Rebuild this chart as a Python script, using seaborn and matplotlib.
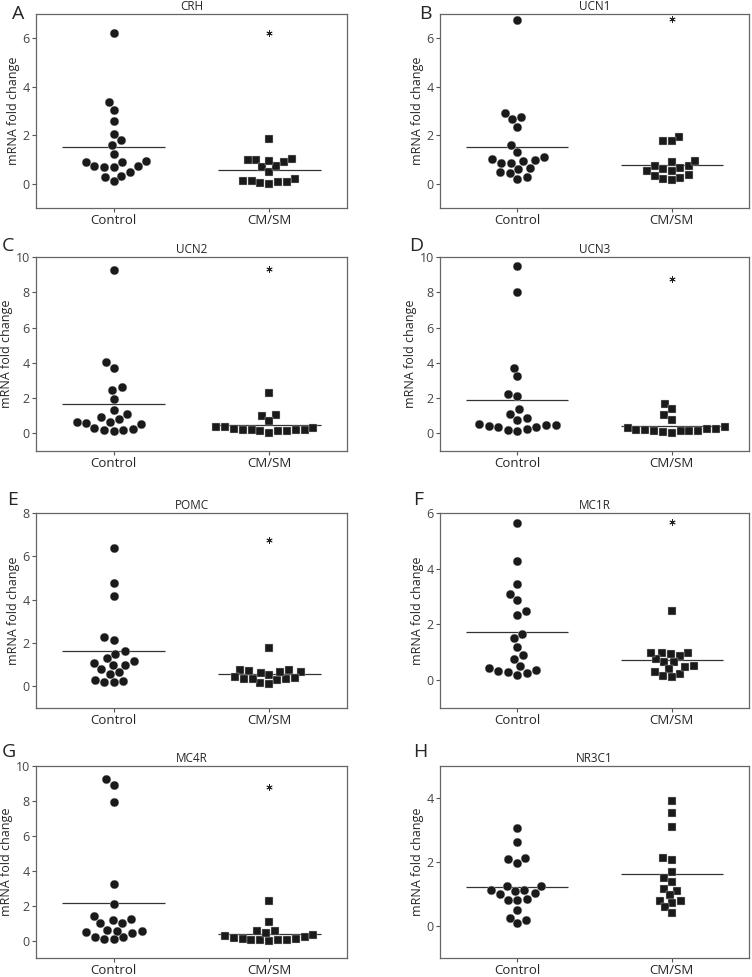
import numpy as np
import pandas as pd
import matplotlib.pyplot as plt
import seaborn as sns

# --- data (mRNA fold change per animal) ---
groups = ['Control', 'CM/SM']
genes = ['CRH', 'UCN1', 'UCN2', 'UCN3', 'POMC', 'MC1R', 'MC4R', 'NR3C1']
letters = ['A', 'B', 'C', 'D', 'E', 'F', 'G', 'H']

crh_control = [6.23, 3.37, 3.03, 2.58, 2.07, 1.79, 1.59, 1.21, 0.91, 0.72, 0.72, 0.69, 0.69, 0.90, 0.92, 0.34, 0.48, 0.26, 0.10]
crh_cmsm = [1.85, 0.97, 0.88, 0.99, 0.69, 1.02, 0.50, 0.72, 0.94, 0.19, 0.08, 0.06, 0.00, 0.04, 0.10, 0.10]
ucn1_control = [6.77, 2.91, 2.65, 2.76, 2.33, 1.60, 1.30, 1.10, 0.98, 0.87, 0.86, 0.94, 1.02, 0.61, 0.43, 0.19, 0.29, 0.48, 0.65]
ucn1_cmsm = [1.93, 1.75, 1.75, 0.88, 0.72, 0.63, 0.74, 0.95, 0.52, 0.36, 0.22, 0.15, 0.21, 0.34, 0.51, 0.62]
ucn2_control = [9.24, 4.06, 3.71, 2.61, 2.48, 1.96, 1.10, 1.33, 0.90, 0.63, 0.61, 0.32, 0.21, 0.15, 0.21, 0.25, 0.53, 0.63, 0.80]
ucn2_cmsm = [2.27, 0.99, 1.03, 0.72, 0.38, 0.27, 0.19, 0.17, 0.15, 0.04, 0.11, 0.13, 0.17, 0.21, 0.29, 0.38]
ucn3_control = [9.47, 7.99, 3.73, 3.24, 2.12, 2.22, 1.12, 1.38, 0.87, 0.51, 0.45, 0.34, 0.27, 0.13, 0.21, 0.36, 0.42, 0.49, 0.74]
ucn3_cmsm = [1.69, 1.40, 1.02, 0.78, 0.28, 0.25, 0.21, 0.11, 0.11, 0.04, 0.09, 0.11, 0.15, 0.21, 0.25, 0.34]
pomc_control = [6.38, 4.75, 4.17, 2.28, 2.15, 1.62, 1.51, 1.31, 1.09, 1.00, 0.80, 0.99, 1.17, 0.57, 0.65, 0.26, 0.18, 0.18, 0.31]
pomc_cmsm = [1.77, 0.77, 0.69, 0.77, 0.66, 0.54, 0.37, 0.35, 0.28, 0.12, 0.15, 0.34, 0.34, 0.43, 0.62, 0.65]
mc1r_control = [5.65, 4.28, 3.46, 3.11, 2.88, 2.35, 2.48, 1.66, 1.51, 1.20, 0.92, 0.77, 0.51, 0.35, 0.29, 0.19, 0.27, 0.34, 0.45]
mc1r_cmsm = [2.48, 0.98, 0.98, 0.88, 0.65, 0.64, 0.75, 0.95, 0.99, 0.51, 0.39, 0.23, 0.10, 0.14, 0.29, 0.48]
mc4r_control = [9.24, 8.90, 7.92, 3.22, 2.08, 1.25, 1.00, 1.00, 1.17, 1.40, 0.61, 0.51, 0.42, 0.19, 0.06, 0.09, 0.23, 0.53, 0.57]
mc4r_cmsm = [2.27, 1.08, 0.53, 0.28, 0.17, 0.08, 0.04, 0.02, 0.00, 0.02, 0.04, 0.09, 0.19, 0.32, 0.45, 0.55]
nr3c1_control = [3.06, 2.64, 2.14, 1.98, 2.09, 1.25, 1.25, 1.11, 1.03, 1.00, 1.08, 1.14, 0.80, 0.85, 0.82, 0.50, 0.26, 0.20, 0.08]
nr3c1_cmsm = [3.92, 3.52, 3.08, 2.07, 2.14, 1.69, 1.51, 1.39, 1.17, 1.10, 0.97, 0.78, 0.72, 0.79, 0.58, 0.41]

control_sets = [crh_control, ucn1_control, ucn2_control, ucn3_control, pomc_control, mc1r_control, mc4r_control, nr3c1_control]
cmsm_sets = [crh_cmsm, ucn1_cmsm, ucn2_cmsm, ucn3_cmsm, pomc_cmsm, mc1r_cmsm, mc4r_cmsm, nr3c1_cmsm]
y_tops = [7, 7, 10, 10, 8, 6, 10, 5]
star_values = [6.23, 6.8, 9.3, 8.75, 6.75, 5.66, 8.77, None]  # significance marks

# --- style ---
sns.set_style('white')
plt.rcParams['font.family'] = ['Open Sans', 'DejaVu Sans']

fig = plt.figure(figsize=(7.52, 9.77), dpi=100)
W, H = 752, 977
col_x = [(36, 347), (440, 749)]
row_y = [(14, 208), (257, 451), (513, 708), (766, 958)]
# panel letter positions (pixels, top-left origin)
letter_x = [12, 419, 2, 409, 7, 413, 2, 413]
letter_y = [14, 14, 246, 246, 500, 500, 752, 752]

for i, gene in enumerate(genes):
    r, c = divmod(i, 2)
    x0, x1 = col_x[c]
    t, b = row_y[r]
    ax = fig.add_axes([x0 / W, 1 - b / H, (x1 - x0) / W, (b - t) / H])

    df_c = pd.DataFrame({'group': 'Control', 'value': control_sets[i]})
    df_s = pd.DataFrame({'group': 'CM/SM', 'value': cmsm_sets[i]})
    sns.swarmplot(data=df_c, x='group', y='value', order=groups, marker='o',
                  color='#1a1a1a', size=6.4, edgecolor='#cccccc', linewidth=0.3, ax=ax)
    sns.swarmplot(data=df_s, x='group', y='value', order=groups, marker='s',
                  color='#1a1a1a', size=5.8, edgecolor='#cccccc', linewidth=0.3, ax=ax)

    # group means
    for k, vals in enumerate([control_sets[i], cmsm_sets[i]]):
        ax.hlines(np.mean(vals), k - 0.33, k + 0.33, color='#333333', lw=0.9, zorder=1)

    if star_values[i] is not None:
        ax.plot([1], [star_values[i]], marker=(6, 2, 0), markersize=4.5,
                mew=0.6, color='#222222', linestyle='none')

    ax.set_xlim(-0.5, 1.5)
    ax.set_ylim(-1, y_tops[i])
    ax.set_yticks(np.arange(0, y_tops[i] + 0.1, 2))
    ax.set_xlabel('')
    ax.set_ylabel('mRNA fold change', fontsize=9, labelpad=2)
    ax.set_title(gene, fontsize=8.5, pad=3)
    ax.tick_params(axis='y', left=True, length=3, width=0.8, color='#555555',
                   labelsize=9, labelcolor='#444444', pad=1.5)
    ax.tick_params(axis='x', bottom=True, length=3, width=0.8, color='#555555',
                   labelsize=9.5, pad=1)
    for sp in ax.spines.values():
        sp.set_color('#666666')
        sp.set_linewidth(0.9)

    fig.text(letter_x[i] / W, 1 - letter_y[i] / H, letters[i], fontsize=14,
             ha='left', va='center')

fig.savefig('out.png', dpi=100)
